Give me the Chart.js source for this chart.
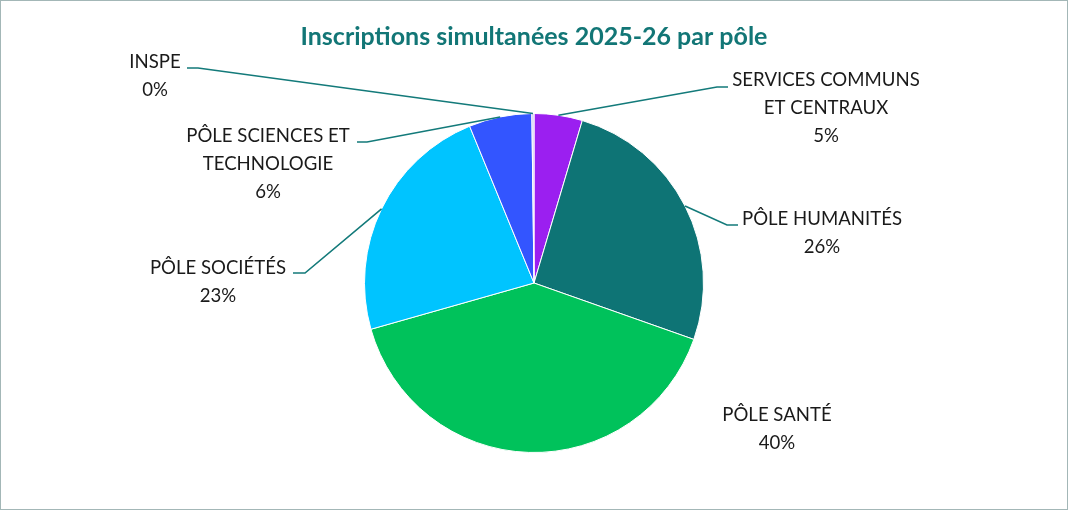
<!DOCTYPE html>
<html>
<head>
<meta charset="utf-8">
<script src="https://cdn.jsdelivr.net/npm/chart.js@4"></script>
<style>
    html, body { margin: 0; padding: 0; background: #fff; }
    #frame {
        width: 1066px;
        height: 508px;
        border: 1px solid #a3b7b7;
    }
</style>
</head>
<body>
<div id="frame"><canvas id="pieChart" width="1066" height="508"></canvas></div>
<script>
const chartTitle = "Inscriptions simultanées 2025-26 par pôle";

const categories = [
    ["SERVICES COMMUNS", "ET CENTRAUX"],
    ["PÔLE HUMANITÉS"],
    ["PÔLE SANTÉ"],
    ["PÔLE SOCIÉTÉS"],
    ["PÔLE SCIENCES ET", "TECHNOLOGIE"],
    ["INSPE"]
];

// part of the simultaneous enrolments, in %
const shares = [4.6, 25.8, 40.2, 23.2, 6.0, 0.2];

const sliceColors = ["#9b1ff0", "#0e7475", "#00c25b", "#00c4ff", "#3355ff", "#c9c3f0"];

// where each label sits, relative to the pie centre (px)
// text: centre of the first line, knee/end: leader line elbow
const labelLayout = [
    { text: [292, -203], knee: [183, -196], end: [194, -196] },
    { text: [288, -64],  knee: [193, -58],  end: [204, -58] },
    { text: [243, 132],  knee: null,        end: null },
    { text: [-316, -15], knee: [-229, -10], end: [-241, -10] },
    { text: [-266, -147], knee: [-167, -141], end: [-177, -141] },
    { text: [-379, -221], knee: [-336, -215], end: [-347, -215] }
];

const labelFont = '18.6px Lato';
const lineStep = 28;
const leaderColor = '#137a7a';

const totalShare = shares.reduce((a, b) => a + b, 0);

const outsideLabels = {
    id: 'outsideLabels',
    afterDatasetsDraw(chart) {
        const ctx = chart.ctx;
        const meta = chart.getDatasetMeta(0);
        ctx.save();
        meta.data.forEach((arc, i) => {
            const p = arc.getProps(['x', 'y', 'startAngle', 'endAngle', 'outerRadius'], true);
            const mid = (p.startAngle + p.endAngle) / 2;
            const lay = labelLayout[i];

            if (lay.knee) {
                ctx.beginPath();
                ctx.moveTo(p.x + Math.cos(mid) * p.outerRadius, p.y + Math.sin(mid) * p.outerRadius);
                ctx.lineTo(p.x + lay.knee[0], p.y + lay.knee[1]);
                ctx.lineTo(p.x + lay.end[0], p.y + lay.end[1]);
                ctx.strokeStyle = leaderColor;
                ctx.lineWidth = 1.6;
                ctx.stroke();
            }

            const lines = categories[i].concat([Math.round(shares[i] / totalShare * 100) + '%']);
            ctx.font = labelFont;
            ctx.fillStyle = '#1a1a1a';
            ctx.textAlign = 'center';
            ctx.textBaseline = 'middle';
            lines.forEach((txt, k) => {
                ctx.fillText(txt, p.x + lay.text[0], p.y + lay.text[1] + k * lineStep);
            });
        });
        ctx.restore();
    }
};

function main() {
    new Chart('pieChart', {
        type: 'pie',
        data: {
            labels: categories.map((c) => c.join(' ')),
            datasets: [{
                data: shares,
                backgroundColor: sliceColors,
                borderColor: '#ffffff',
                borderWidth: 1
            }]
        },
        options: {
            responsive: false,
            animation: false,
            layout: {
                padding: { top: 0, bottom: 56, left: 0, right: 0 }
            },
            plugins: {
                legend: { display: false },
                tooltip: { enabled: false },
                title: {
                    display: true,
                    text: chartTitle,
                    color: '#127676',
                    font: { family: 'Lato', size: 25, weight: 'bold' },
                    padding: { top: 21, bottom: 61 }
                }
            }
        },
        plugins: [outsideLabels]
    });
}

window.onload = main;
</script>
</body>
</html>
